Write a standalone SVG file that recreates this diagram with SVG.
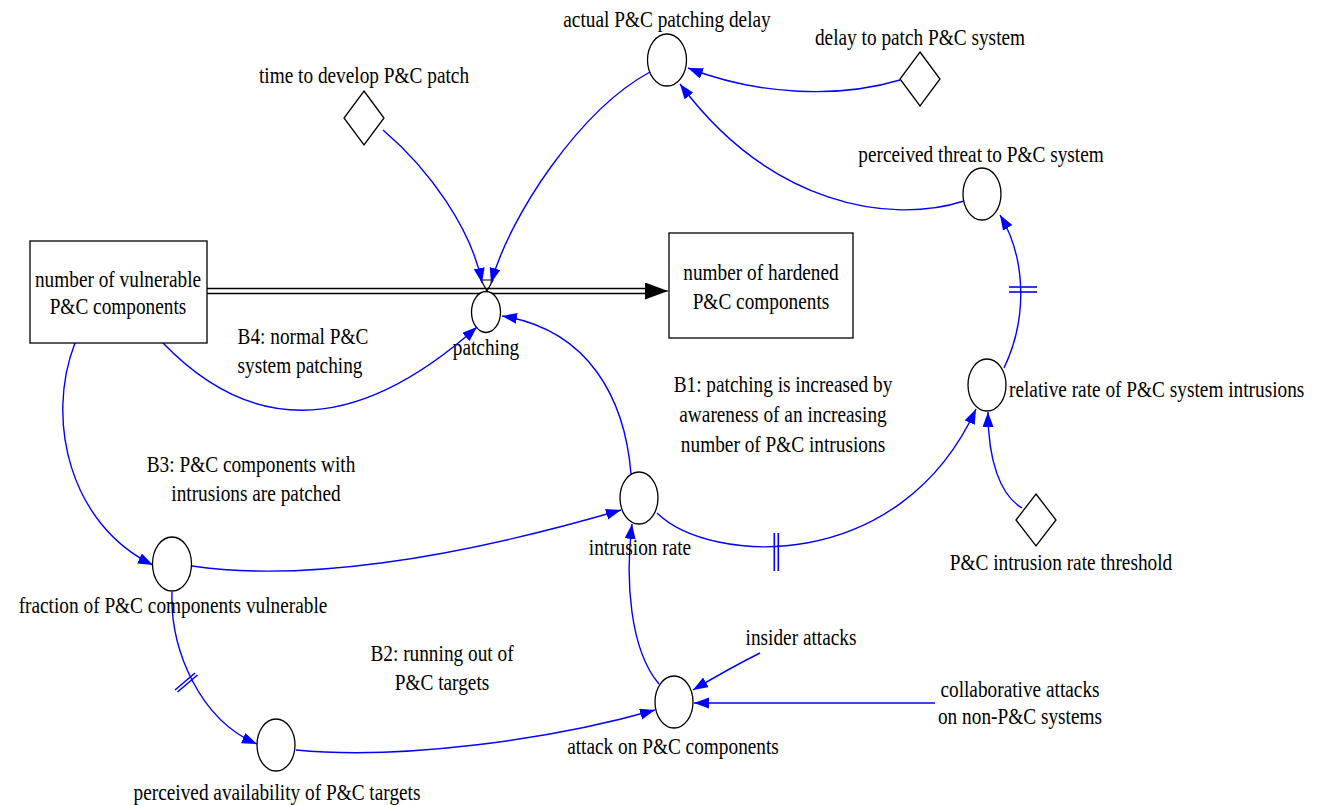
<svg xmlns="http://www.w3.org/2000/svg" width="1317" height="805" viewBox="0 0 1317 805">
<style>
text{font-family:"Liberation Serif","Times New Roman",serif;font-size:23px;fill:#000}
.m{text-anchor:middle}
.s{text-anchor:start}
.shape{fill:#fff;stroke:#000;stroke-width:1.3}
.link{fill:none;stroke:#0000ff;stroke-width:1.4}
.mark{fill:none;stroke:#0000ff;stroke-width:1.6}
.pipe{fill:none;stroke:#000;stroke-width:1.6}
</style>
<defs>
<marker id="ah" markerUnits="userSpaceOnUse" markerWidth="16" markerHeight="12" refX="15" refY="5.5" orient="auto">
<path d="M0,0 L15,5.5 L0,11 z" fill="#0000ff"/>
</marker>
<marker id="fh" markerUnits="userSpaceOnUse" markerWidth="24" markerHeight="18" refX="23" refY="8.5" orient="auto">
<path d="M0,0 L23,8.5 L0,17 z" fill="#000"/>
</marker>
</defs>
<rect width="1317" height="805" fill="#fff"/>

<g id="flow-patching">
<line class="pipe" x1="207" y1="288.5" x2="650" y2="288.5"/>
<line class="pipe" x1="207" y1="293.5" x2="650" y2="293.5"/>
<line x1="645" y1="291" x2="668" y2="291" stroke="#000" stroke-width="1" marker-end="url(#fh)"/>
<polygon points="481,280 493,280 481,302 493,302" fill="none" stroke="#000" stroke-width="1.2"/>
<ellipse class="shape" cx="486" cy="312" rx="14.5" ry="20.5"/>
<text transform="translate(486,355) scale(0.84,1)" class="m">patching</text>
</g>

<g id="connectors">
<path class="link" d="M900,80 C840,98 760,96 688,68" marker-end="url(#ah)"/>
<path class="link" d="M964,201 C890,225 770,205 680,84" marker-end="url(#ah)"/>
<path class="link" d="M650,72 C580,110 510,215 491,283" marker-end="url(#ah)"/>
<path class="link" d="M383,130 C430,170 472,230 482,283" marker-end="url(#ah)"/>
<path class="link" d="M163,343 Q300,485 477,327" marker-end="url(#ah)"/>
<path class="link" d="M631,474 C625,400 590,330 502,316" marker-end="url(#ah)"/>
<path class="link" d="M75,343 C45,420 70,525 153,565" marker-end="url(#ah)"/>
<path class="link" d="M192,566 C300,582 450,560 621,510" marker-end="url(#ah)"/>
<path class="link" d="M657,513 C710,565 900,575 976,409" marker-end="url(#ah)"/>
<line class="mark" x1="774.3" y1="533" x2="774.3" y2="571"/>
<line class="mark" x1="778.3" y1="533" x2="778.3" y2="571"/>
<path class="link" d="M1004,368 C1027,320 1027,260 1000,215" marker-end="url(#ah)"/>
<line class="mark" x1="1009" y1="287" x2="1037" y2="287"/>
<line class="mark" x1="1009" y1="292" x2="1037" y2="292"/>
<path class="link" d="M1022,508 C1000,495 988,460 988,412" marker-end="url(#ah)"/>
<path class="link" d="M659,684 C630,650 625,580 632,524" marker-end="url(#ah)"/>
<path class="link" d="M760,653 Q730,668 693,690" marker-end="url(#ah)"/>
<path class="link" d="M935,703 L694,703" marker-end="url(#ah)"/>
<path class="link" d="M172,592 C170,650 200,720 257,744" marker-end="url(#ah)"/>
<line class="mark" x1="175" y1="690" x2="195" y2="673"/>
<line class="mark" x1="177.5" y1="692" x2="197.5" y2="675"/>
<path class="link" d="M296,750 C400,760 550,740 655,710" marker-end="url(#ah)"/>
</g>

<g id="stock-vulnerable">
<rect class="shape" x="30" y="241" width="177" height="102"/>
<text transform="translate(118,287) scale(0.84,1)" class="m">number of vulnerable</text>
<text transform="translate(118,314) scale(0.84,1)" class="m">P&amp;C components</text>
</g>

<g id="stock-hardened">
<rect class="shape" x="669" y="233" width="184" height="105"/>
<text transform="translate(761,280) scale(0.84,1)" class="m">number of hardened</text>
<text transform="translate(761,309) scale(0.84,1)" class="m">P&amp;C components</text>
</g>

<g id="actual-delay">
<ellipse class="shape" cx="667" cy="60" rx="19.5" ry="26"/>
<text transform="translate(667,27) scale(0.84,1)" class="m">actual P&amp;C patching delay</text>
</g>

<g id="delay-to-patch">
<polygon class="shape" points="920,52 940,79 920,106 900,79"/>
<text transform="translate(920,45) scale(0.84,1)" class="m">delay to patch P&amp;C system</text>
</g>

<g id="time-to-develop">
<polygon class="shape" points="364,91 384,118 364,145 344,118"/>
<text transform="translate(364,83) scale(0.84,1)" class="m">time to develop P&amp;C patch</text>
</g>

<g id="perceived-threat">
<ellipse class="shape" cx="982" cy="194" rx="19" ry="26"/>
<text transform="translate(981,162) scale(0.84,1)" class="m">perceived threat to P&amp;C system</text>
</g>

<g id="relative-rate">
<ellipse class="shape" cx="987" cy="385" rx="19" ry="26"/>
<text transform="translate(1009,397) scale(0.84,1)" class="s">relative rate of P&amp;C system intrusions</text>
</g>

<g id="threshold">
<polygon class="shape" points="1036,494 1056,520 1036,546 1016,520"/>
<text transform="translate(1061,570) scale(0.84,1)" class="m">P&amp;C intrusion rate threshold</text>
</g>

<g id="intrusion-rate">
<ellipse class="shape" cx="639" cy="498" rx="19" ry="26"/>
<text transform="translate(640,555) scale(0.84,1)" class="m">intrusion rate</text>
</g>

<g id="fraction-vulnerable">
<ellipse class="shape" cx="172" cy="564" rx="19.5" ry="27"/>
<text transform="translate(173,613) scale(0.84,1)" class="m">fraction of P&amp;C components vulnerable</text>
</g>

<g id="perceived-availability">
<ellipse class="shape" cx="276" cy="745" rx="19" ry="26"/>
<text transform="translate(277,800) scale(0.84,1)" class="m">perceived availability of P&amp;C targets</text>
</g>

<g id="attack">
<ellipse class="shape" cx="674" cy="702" rx="19" ry="26"/>
<text transform="translate(673,754) scale(0.84,1)" class="m">attack on P&amp;C components</text>
</g>

<g id="insider-attacks">
<text transform="translate(801,645) scale(0.84,1)" class="m">insider attacks</text>
</g>

<g id="collaborative-attacks">
<text transform="translate(1020,697) scale(0.84,1)" class="m">collaborative attacks</text>
<text transform="translate(1020,724) scale(0.84,1)" class="m">on non-P&amp;C systems</text>
</g>

<g id="loop-B4">
<text transform="translate(303,344) scale(0.84,1)" class="m">B4: normal P&amp;C</text>
<text transform="translate(300,373) scale(0.84,1)" class="m">system patching</text>
</g>

<g id="loop-B1">
<text transform="translate(783,392) scale(0.84,1)" class="m">B1: patching is increased by</text>
<text transform="translate(783,422) scale(0.84,1)" class="m">awareness of an increasing</text>
<text transform="translate(783,452) scale(0.84,1)" class="m">number of P&amp;C intrusions</text>
</g>

<g id="loop-B3">
<text transform="translate(251,472) scale(0.84,1)" class="m">B3: P&amp;C components with</text>
<text transform="translate(256,501) scale(0.84,1)" class="m">intrusions are patched</text>
</g>

<g id="loop-B2">
<text transform="translate(442,661) scale(0.84,1)" class="m">B2: running out of</text>
<text transform="translate(442,690) scale(0.84,1)" class="m">P&amp;C targets</text>
</g>
</svg>
